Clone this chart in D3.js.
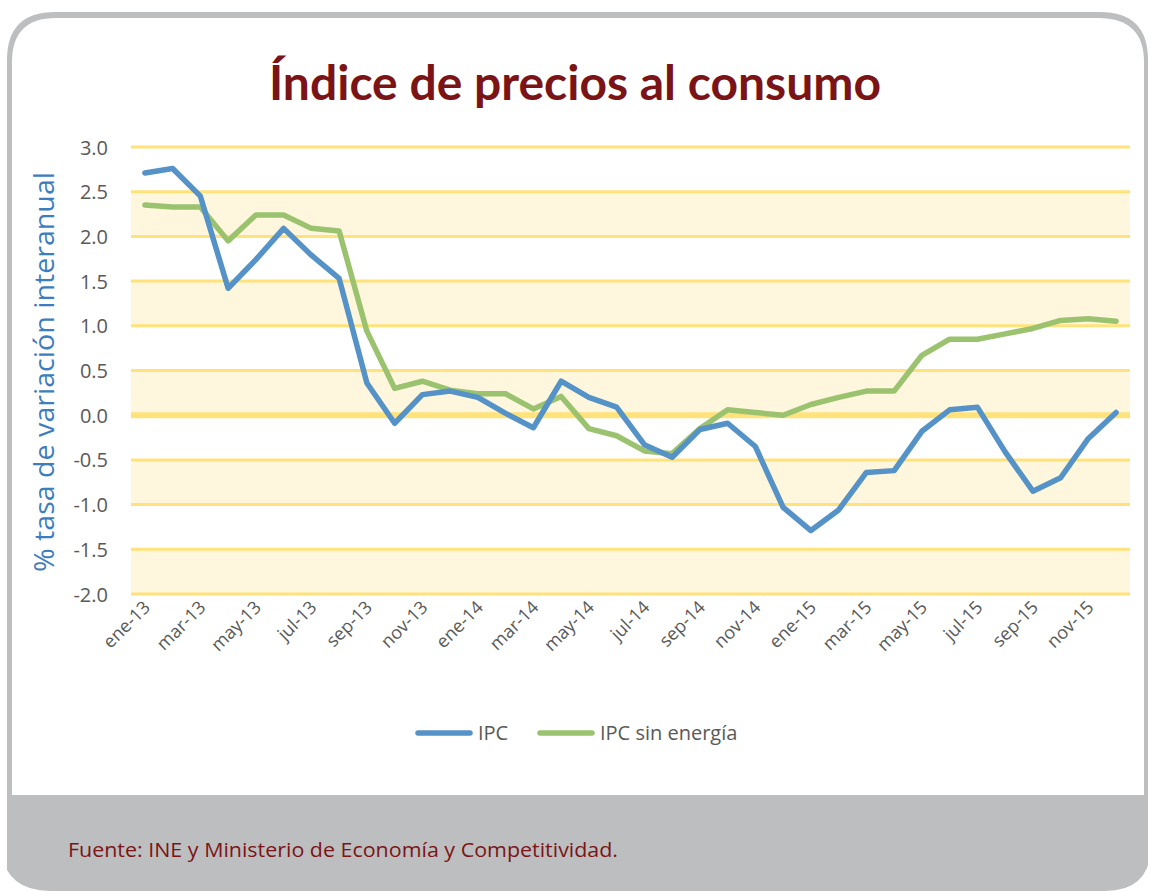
<!DOCTYPE html>
<html><head><meta charset="utf-8">
<script src="https://cdn.jsdelivr.net/npm/d3@7"></script>
<style>html,body{margin:0;padding:0;background:#fff;}svg{display:block;}</style>
</head><body>
<script>
const months = ["ene-13","feb-13","mar-13","abr-13","may-13","jun-13","jul-13","ago-13","sep-13","oct-13","nov-13","dic-13",
"ene-14","feb-14","mar-14","abr-14","may-14","jun-14","jul-14","ago-14","sep-14","oct-14","nov-14","dic-14",
"ene-15","feb-15","mar-15","abr-15","may-15","jun-15","jul-15","ago-15","sep-15","oct-15","nov-15","dic-15"];
const ipc = [2.71,2.76,2.45,1.42,1.74,2.09,1.79,1.53,0.36,-0.09,0.23,0.27,
0.20,0.02,-0.14,0.38,0.20,0.09,-0.33,-0.47,-0.16,-0.09,-0.35,-1.03,
-1.29,-1.06,-0.64,-0.62,-0.18,0.06,0.09,-0.41,-0.85,-0.70,-0.26,0.03];
const ipcSinEnergia = [2.35,2.33,2.33,1.95,2.24,2.24,2.09,2.06,0.94,0.30,0.38,0.28,
0.24,0.24,0.07,0.21,-0.15,-0.23,-0.40,-0.43,-0.15,0.06,0.03,0.00,
0.12,0.20,0.27,0.27,0.67,0.85,0.85,0.91,0.97,1.06,1.08,1.05];
const yTicks = [3.0,2.5,2.0,1.5,1.0,0.5,0.0,-0.5,-1.0,-1.5,-2.0];
const bands = [[2.0,2.5],[1.0,1.5],[0.0,0.5],[-1.0,-0.5],[-2.0,-1.5]];
const seriesNames = ["IPC","IPC sin energía"];
const title = "Índice de precios al consumo";
const yTitle = "% tasa de variación interanual";
const source = "Fuente: INE y Ministerio de Economía y Competitividad.";

const W = 1151, H = 891;
const svg = d3.select("body").append("svg").attr("width", W).attr("height", H);

// card
const gray = "#BDBEC0";
svg.append("path")
  .attr("d", "M7,891 L7,60 Q7,12 55,12 L1100,12 Q1148,12 1148,60 L1148,891 Z")
  .attr("fill", gray);
svg.append("path")
  .attr("d", "M12,795 L12,62 Q12,18 56,18 L1098,18 Q1144,18 1144,62 L1144,795 Z")
  .attr("fill", "#fff");
svg.append("path").attr("d","M0,891 L0,850 Q7,891 50,891 Z").attr("fill","#fff");
svg.append("path").attr("d","M1151,891 L1151,850 Q1148,891 1105,891 Z").attr("fill","#fff");

svg.append("text").attr("x", 575).attr("y", 100).attr("text-anchor","middle")
  .attr("font-family","Lato, 'Open Sans', sans-serif").attr("font-weight","bold")
  .attr("font-size", 47).attr("fill","#7B1416")
  .attr("textLength", 612).attr("lengthAdjust","spacingAndGlyphs")
  .text(title);

const x0 = 131, x1 = 1130;
const x = d3.scaleBand().domain(months).range([x0, x1]);
const y = d3.scaleLinear().domain([-2, 3]).range([594, 147]);
const cx = m => x(m) + x.bandwidth()/2;

const g = svg.append("g");
g.selectAll("rect.band").data(bands).join("rect")
  .attr("x", x0).attr("width", x1 - x0)
  .attr("y", d => y(d[1])).attr("height", d => y(d[0]) - y(d[1]))
  .attr("fill", "#FFF7DD");
g.selectAll("line.grid").data(yTicks).join("line")
  .attr("x1", x0).attr("x2", x1)
  .attr("y1", d => y(d)).attr("y2", d => y(d))
  .attr("stroke", "#FFE27A").attr("stroke-width", d => d === 0 ? 6 : 3);

const yAxis = d3.axisLeft(y).tickValues(yTicks).tickFormat(d3.format(".1f")).tickSize(0).tickPadding(0);
const ya = svg.append("g").attr("transform","translate(108,0)").call(yAxis);
ya.select(".domain").remove();
ya.selectAll("text").attr("font-family","'Open Sans', sans-serif").attr("font-size",20).attr("fill","#595959").attr("dy","0.35em")
  .text(d => d3.format(".1f")(d).replace("−","-"));

svg.append("text").attr("transform","translate(54,372) rotate(-90)").attr("text-anchor","middle")
  .attr("font-family","'Open Sans', sans-serif").attr("font-size",28).attr("fill","#3C7DC0")
  .attr("textLength", 400).attr("lengthAdjust","spacingAndGlyphs")
  .text(yTitle);

const xLabels = months.filter((m,i) => i % 2 === 0);
const xAxis = d3.axisBottom(x).tickValues(xLabels).tickSize(0).tickPadding(0);
const xa = svg.append("g").attr("transform","translate(2,604)").call(xAxis);
xa.select(".domain").remove();
xa.selectAll("text").attr("font-family","'Open Sans', sans-serif").attr("font-size",18).attr("fill","#595959")
  .attr("text-anchor","end").attr("dy","0.35em").attr("transform","rotate(-45)");

const line = d3.line().x((d,i) => cx(months[i])).y(d => y(d));
svg.append("path").datum(ipcSinEnergia).attr("d", line).attr("fill","none")
  .attr("stroke","#9BC36F").attr("stroke-width",5.5).attr("stroke-linejoin","round").attr("stroke-linecap","round");
svg.append("path").datum(ipc).attr("d", line).attr("fill","none")
  .attr("stroke","#5592C7").attr("stroke-width",5.5).attr("stroke-linejoin","round").attr("stroke-linecap","round");

const legend = [{name: seriesNames[0], color:"#5592C7", x:418, w:52},{name: seriesNames[1], color:"#9BC36F", x:540, w:52}];
const lg = svg.append("g");
legend.forEach(l => {
  lg.append("line").attr("x1", l.x).attr("x2", l.x + l.w).attr("y1", 733).attr("y2", 733)
    .attr("stroke", l.color).attr("stroke-width", 5.5).attr("stroke-linecap","round");
  lg.append("text").attr("x", l.x + l.w + 8).attr("y", 733).attr("dy","0.35em")
    .attr("font-family","'Open Sans', sans-serif").attr("font-size",20).attr("fill","#595959").text(l.name);
});

svg.append("text").attr("x", 68).attr("y", 857)
  .attr("font-family","'Open Sans', sans-serif").attr("font-size",20).attr("fill","#7B1416")
  .attr("textLength", 550).attr("lengthAdjust","spacingAndGlyphs")
  .text(source);
</script>
</body></html>
